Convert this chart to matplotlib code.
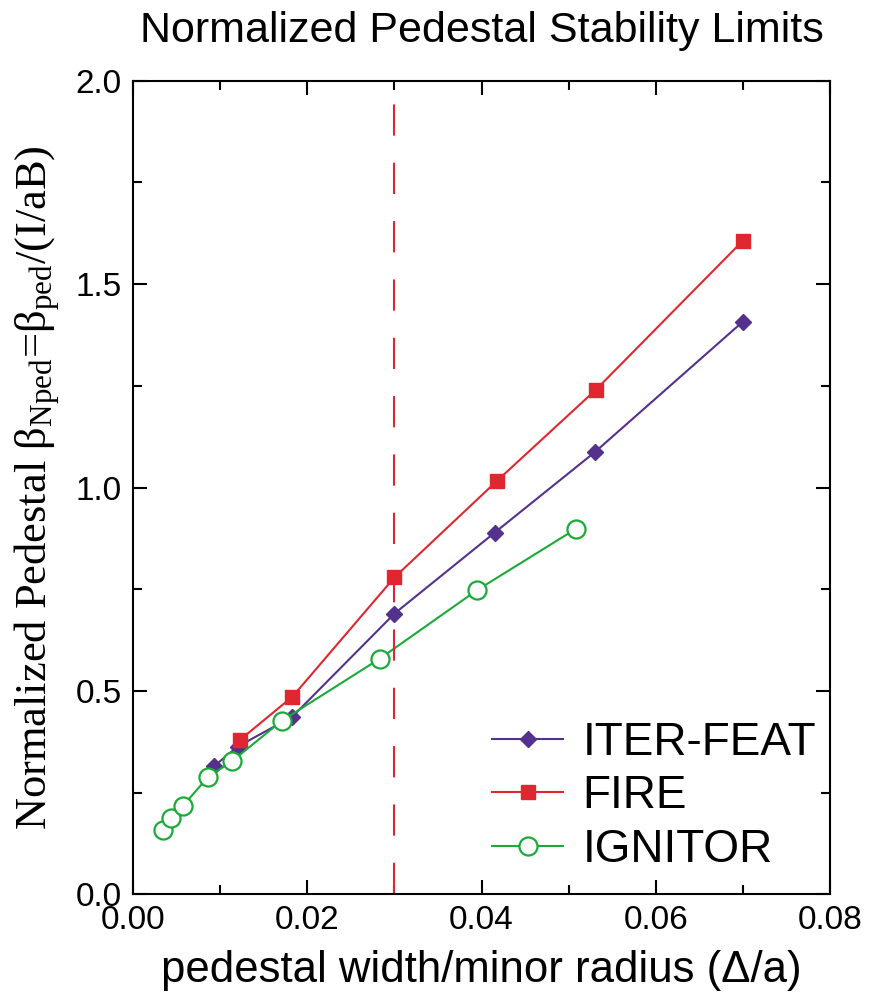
import matplotlib
matplotlib.use('Agg')
import matplotlib.pyplot as plt
from matplotlib.ticker import MultipleLocator, FormatStrFormatter

# Fonts: Arial-like for most text, Times-like for the y label
matplotlib.rc('font', family='Liberation Sans')
matplotlib.rcParams['mathtext.fontset'] = 'custom'
matplotlib.rcParams['mathtext.rm'] = 'Liberation Serif'
matplotlib.rcParams['mathtext.it'] = 'Liberation Serif:italic'

# Data
iter_x = [0.0093, 0.0120, 0.0183, 0.0300, 0.0415, 0.0530, 0.0700]
iter_y = [0.315, 0.363, 0.437, 0.690, 0.889, 1.087, 1.408]

fire_x = [0.0123, 0.0183, 0.0300, 0.0418, 0.0531, 0.0700]
fire_y = [0.380, 0.486, 0.779, 1.017, 1.240, 1.607]

ign_x = [0.0034, 0.0043, 0.0057, 0.0086, 0.0114, 0.0171, 0.0283, 0.0395, 0.0508]
ign_y = [0.158, 0.187, 0.217, 0.288, 0.328, 0.427, 0.579, 0.748, 0.898]

limit_x = 0.03

purple = '#54318C'
red = '#E0262E'
green = '#1AAA3A'

fig = plt.figure(figsize=(8.84, 9.97), dpi=100)
ax = fig.add_axes([0.1505, 0.103, 0.7885, 0.816])

ax.plot(iter_x, iter_y, color=purple, lw=1.5, marker='D', ms=8,
        label='ITER-FEAT')
ax.plot(fire_x, fire_y, color=red, lw=1.5, marker='s', ms=9.5,
        label='FIRE')
ax.plot(ign_x, ign_y, color=green, lw=1.5, marker='o', ms=13,
        mfc='white', mew=1.6, label='IGNITOR')

ax.axvline(limit_x, color=red, lw=1.5, dashes=(15, 13))

ax.set_xlim(0, 0.08)
ax.set_ylim(0, 2.0)
ax.xaxis.set_major_locator(MultipleLocator(0.02))
ax.xaxis.set_minor_locator(MultipleLocator(0.01))
ax.yaxis.set_major_locator(MultipleLocator(0.5))
ax.yaxis.set_minor_locator(MultipleLocator(0.25))
ax.xaxis.set_major_formatter(FormatStrFormatter('%.2f'))
ax.yaxis.set_major_formatter(FormatStrFormatter('%.1f'))

ax.tick_params(which='both', direction='in', top=True, right=True, width=1.5)
ax.tick_params(which='major', length=10, labelsize=24, pad=8)
ax.tick_params(which='minor', length=6.5)
for s in ax.spines.values():
    s.set_linewidth(1.5)

ax.set_title('Normalized Pedestal Stability Limits', fontsize=31, pad=28)
ax.set_xlabel('pedestal width/minor radius (\u0394/a)', fontsize=31.5,
              labelpad=10)
ax.set_ylabel('Normalized Pedestal \u03b2$_{\\mathrm{Nped}}$=\u03b2$_{\\mathrm{ped}}$/(I/aB)',
              fontsize=32, family='Liberation Serif', labelpad=10)

ax.legend(loc='lower right', frameon=False, fontsize=33, handlelength=1.55,
          handletextpad=0.42, labelspacing=0.2, borderaxespad=0.0,
          borderpad=0.3, bbox_to_anchor=(1.0, 0.011))

fig.savefig('out.png', dpi=100)
